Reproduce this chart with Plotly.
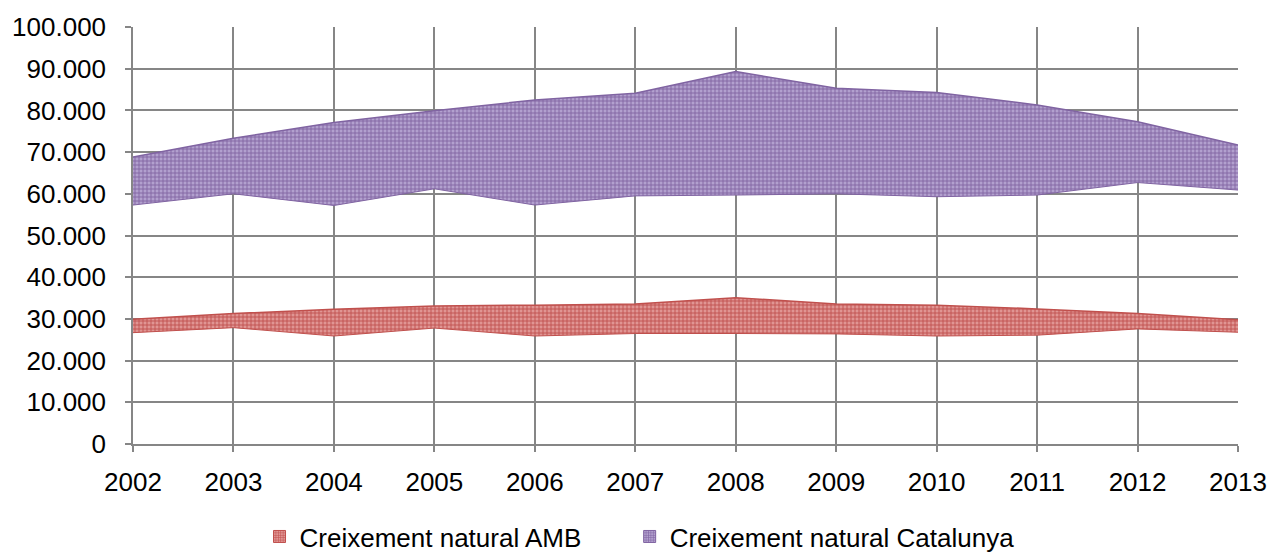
import plotly.graph_objects as go

years = [2002, 2003, 2004, 2005, 2006, 2007, 2008, 2009, 2010, 2011, 2012, 2013]

amb_low = [26700, 27900, 25900, 27800, 25900, 26500, 26500, 26400, 25900, 26100, 27600, 26800]
amb_high = [29900, 31300, 32300, 33100, 33300, 33600, 35100, 33600, 33300, 32400, 31300, 29800]

cat_low = [57300, 60000, 57200, 61200, 57300, 59500, 59700, 60000, 59300, 59700, 62700, 60900]
cat_high = [68800, 73300, 77100, 79900, 82500, 84100, 89300, 85300, 84300, 81300, 77300, 71700]

y_ticks = [0, 10000, 20000, 30000, 40000, 50000, 60000, 70000, 80000, 90000, 100000]

series_names = ["Creixement natural AMB", "Creixement natural Catalunya"]

RED = "#C0504D"
RED_BG = "#E09593"
PUR = "#8064A2"
PUR_BG = "#B2A0CE"
GRID = "#868686"
FONT = "Liberation Sans"

fig = go.Figure()


def add_band(low, high, name, col, bg):
    fig.add_trace(go.Scatter(x=years, y=low, mode="lines", line=dict(color=col, width=1),
                             showlegend=False, hoverinfo="skip"))
    fig.add_trace(go.Scatter(x=years, y=high, mode="lines", line=dict(color=col, width=1.5),
                             fill="tonexty", fillcolor=bg,
                             fillpattern=dict(shape="+", fgcolor=col, bgcolor=bg,
                                              size=4, solidity=0.4, fillmode="replace"),
                             name=name, showlegend=False))


add_band(amb_low, amb_high, series_names[0], RED, RED_BG)
add_band(cat_low, cat_high, series_names[1], PUR, PUR_BG)

# legend swatches
legend_labels = [series_names[0] + "\u00a0" * 6, series_names[1]]
for name, col, bg in [(legend_labels[0], RED, RED_BG),
                      (legend_labels[1], PUR, PUR_BG)]:
    fig.add_trace(go.Bar(x=[None], y=[None], name=name,
                         marker=dict(color=bg, line=dict(color=col, width=1),
                                     pattern=dict(shape="+", fgcolor=col, bgcolor=bg,
                                                  size=3, solidity=0.4, fillmode="replace"))))

fig.update_layout(
    width=1270, height=553,
    margin=dict(l=133, r=32, t=27, b=109, autoexpand=False),
    paper_bgcolor="white", plot_bgcolor="white",
    separators=",.",
    font=dict(family=FONT, size=26, color="#000000"),
    showlegend=True,
    legend=dict(orientation="h", x=0.1145, xanchor="left", y=-0.222, yanchor="middle",
                font=dict(family=FONT, size=26, color="#000000"),
                itemwidth=30, traceorder="normal"),
    xaxis=dict(range=[2002, 2013], tickmode="array", tickvals=years,
               ticktext=[str(y) for y in years],
               showgrid=True, gridcolor=GRID, gridwidth=1.5,
               showline=True, linecolor=GRID, linewidth=1.5,
               ticks="outside", ticklen=6, tickcolor=GRID, tickwidth=1.5,
               ticklabelstandoff=8, zeroline=False, fixedrange=True, automargin=False),
    yaxis=dict(range=[0, 100000], tickmode="array", tickvals=y_ticks,
               tickformat=",d",
               showgrid=True, gridcolor=GRID, gridwidth=1.5,
               showline=True, linecolor=GRID, linewidth=1.5,
               ticks="outside", ticklen=6, tickcolor=GRID, tickwidth=1.5,
               ticklabelstandoff=14, zeroline=False, fixedrange=True, automargin=False),
)

fig.write_html("out.html", config={"displayModeBar": False},
               post_script="document.body.style.margin='0px';document.body.style.overflow='hidden';")
